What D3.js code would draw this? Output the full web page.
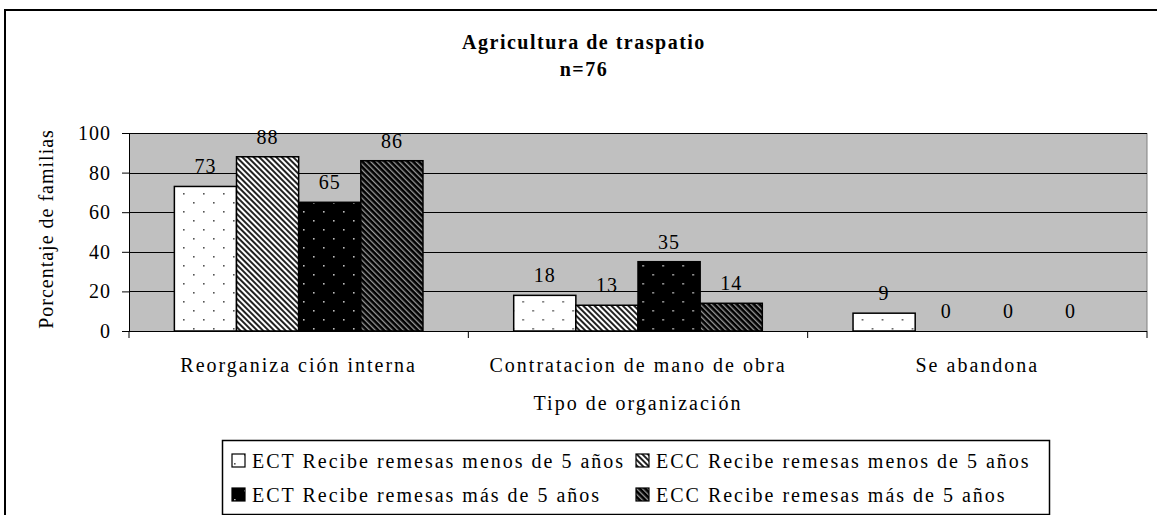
<!DOCTYPE html>
<html>
<head>
  <meta charset="utf-8" />
  <title>Agricultura de traspatio</title>
  <script src="https://cdn.jsdelivr.net/npm/d3@7"></script>
  <style>
    body { margin: 0; background: white; }
    svg text { font-family: "Liberation Serif", "Times New Roman", serif; fill: black; }
  </style>
</head>
<body>
  <svg id="chart" width="1157" height="515"></svg>
  <script>
    // data
    var categories = ["Reorganiza ción interna", "Contratacion de mano de obra", "Se abandona"];
    var seriesNames = [
      "ECT Recibe remesas menos de 5 años",
      "ECC Recibe remesas menos de 5 años",
      "ECT Recibe remesas más de 5 años",
      "ECC Recibe remesas más de 5 años"
    ];
    var ectMenos = [73, 18, 9];
    var eccMenos = [88, 13, 0];
    var ectMas = [65, 35, 0];
    var eccMas = [86, 14, 0];
    var yTicks = [0, 20, 40, 60, 80, 100];

    var seriesValues = [ectMenos, eccMenos, ectMas, eccMas];
    var patternIds = ["p-dots-white", "p-stripe-white", "p-dots-black", "p-stripe-black"];

    var svg = d3.select("#chart");
    var defs = svg.append("defs");

    // dotted fills
    function dots(id, bg, dot) {
      var p = defs.append("pattern").attr("id", id)
        .attr("width", 20).attr("height", 18)
        .attr("patternUnits", "userSpaceOnUse");
      p.append("rect").attr("width", 20).attr("height", 18).attr("fill", bg);
      p.append("rect").attr("x", 4).attr("y", 4).attr("width", 1.6).attr("height", 1.6).attr("fill", dot);
      p.append("rect").attr("x", 14).attr("y", 13).attr("width", 1.6).attr("height", 1.6).attr("fill", dot);
    }
    // diagonal fills
    function stripes(id, bg, line, w) {
      var p = defs.append("pattern").attr("id", id)
        .attr("width", 4).attr("height", 4)
        .attr("patternUnits", "userSpaceOnUse")
        .attr("patternTransform", "rotate(-45)");
      p.append("rect").attr("width", 4).attr("height", 4).attr("fill", bg);
      p.append("rect").attr("width", w).attr("height", 4).attr("fill", line);
    }
    dots("p-dots-white", "#ffffff", "#555");
    stripes("p-stripe-white", "#ffffff", "#222", 2);
    dots("p-dots-black", "#000000", "#bbb");
    stripes("p-stripe-black", "#000000", "#999", 1.3);

    // outer chart border
    svg.append("rect").attr("x", 5).attr("y", 10).attr("width", 1300).attr("height", 700)
      .attr("fill", "none").attr("stroke", "black").attr("stroke-width", 2);

    var plotL = 129, plotR = 1147, plotT = 133, plotB = 331;
    var fs = 20, ls = 2;

    var x0 = d3.scaleBand().domain(categories).range([plotL, plotR]).padding(0);
    var x1 = d3.scaleBand().domain(d3.range(seriesNames.length))
      .range([0, x0.bandwidth()]).paddingInner(0).paddingOuter(0.73);
    var y = d3.scaleLinear().domain([0, 100]).range([plotB, plotT]);

    // plot background
    svg.append("rect").attr("x", plotL).attr("y", plotT)
      .attr("width", plotR - plotL).attr("height", plotB - plotT)
      .attr("fill", "#c0c0c0");
    svg.append("line").attr("x1", plotR).attr("x2", plotR).attr("y1", plotT).attr("y2", plotB)
      .attr("stroke", "#808080").attr("stroke-width", 1);

    // gridlines
    svg.append("g").selectAll("line").data(yTicks.filter(function (d) { return d > 0; }))
      .join("line")
      .attr("x1", plotL).attr("x2", plotR)
      .attr("y1", function (d) { return Math.round(y(d)) + 0.5; })
      .attr("y2", function (d) { return Math.round(y(d)) + 0.5; })
      .attr("stroke", "black");

    // bars
    var groups = svg.append("g").selectAll("g").data(categories).join("g")
      .attr("transform", function (c) { return "translate(" + x0(c) + ",0)"; });

    groups.each(function (c, ci) {
      var g = d3.select(this);
      seriesValues.forEach(function (vals, si) {
        var v = vals[ci];
        if (v > 0) {
          g.append("rect")
            .attr("x", x1(si)).attr("y", y(v))
            .attr("width", x1.bandwidth()).attr("height", y(0) - y(v))
            .attr("fill", "url(#" + patternIds[si] + ")")
            .attr("stroke", "black").attr("stroke-width", 1.5);
        }
        g.append("text")
          .attr("x", x1(si) + x1.bandwidth() / 2)
          .attr("y", y(v) - 13)
          .attr("text-anchor", "middle")
          .attr("font-size", fs).attr("letter-spacing", 1)
          .text(v);
      });
    });

    // axes
    var yAxis = d3.axisLeft(y).tickValues(yTicks).tickSize(7).tickPadding(11);
    svg.append("g").attr("transform", "translate(" + plotL + ",0)").call(yAxis)
      .call(function (g) {
        g.select(".domain").attr("stroke", "black");
        g.selectAll("text").attr("font-size", fs).attr("letter-spacing", 1)
          .attr("font-family", "Liberation Serif");
      });

    svg.append("line").attr("x1", plotL).attr("x2", plotR).attr("y1", plotB + 0.5).attr("y2", plotB + 0.5)
      .attr("stroke", "black");
    var bounds = categories.map(function (c) { return x0(c); }).concat([plotR]);
    svg.append("g").selectAll("line").data(bounds).join("line")
      .attr("x1", function (d) { return d; }).attr("x2", function (d) { return d; })
      .attr("y1", plotB).attr("y2", plotB + 7).attr("stroke", "black");

    svg.append("g").selectAll("text").data(categories).join("text")
      .attr("x", function (c) { return x0(c) + x0.bandwidth() / 2; })
      .attr("y", 372)
      .attr("text-anchor", "middle").attr("font-size", fs).attr("letter-spacing", ls)
      .text(function (c) { return c; });

    // titles
    svg.append("text").attr("x", 584).attr("y", 49).attr("text-anchor", "middle")
      .attr("font-size", fs).attr("letter-spacing", 1.5).attr("font-weight", "bold")
      .text("Agricultura de traspatio");
    svg.append("text").attr("x", 584).attr("y", 76).attr("text-anchor", "middle")
      .attr("font-size", fs).attr("letter-spacing", 1.5).attr("font-weight", "bold")
      .text("n=76");
    svg.append("text").attr("x", 638).attr("y", 410).attr("text-anchor", "middle")
      .attr("font-size", fs).attr("letter-spacing", ls).text("Tipo de organización");
    svg.append("text").attr("transform", "translate(53,229) rotate(-90)")
      .attr("text-anchor", "middle").attr("font-size", fs).attr("letter-spacing", 1)
      .text("Porcentaje de familias");

    // legend
    var legend = svg.append("g");
    legend.append("rect").attr("x", 222.5).attr("y", 440.5).attr("width", 827).attr("height", 74)
      .attr("fill", "white").attr("stroke", "black").attr("stroke-width", 1.5);
    var legPos = [[232, 454], [636, 454], [232, 488], [636, 488]];
    seriesNames.forEach(function (name, i) {
      var p = legPos[i];
      legend.append("rect").attr("x", p[0]).attr("y", p[1]).attr("width", 13).attr("height", 13)
        .attr("fill", "url(#" + patternIds[i] + ")").attr("stroke", "black").attr("stroke-width", 1.2);
      legend.append("text").attr("x", p[0] + 20).attr("y", p[1] + 14)
        .attr("font-size", fs).attr("letter-spacing", ls).text(name);
    });
  </script>
</body>
</html>
